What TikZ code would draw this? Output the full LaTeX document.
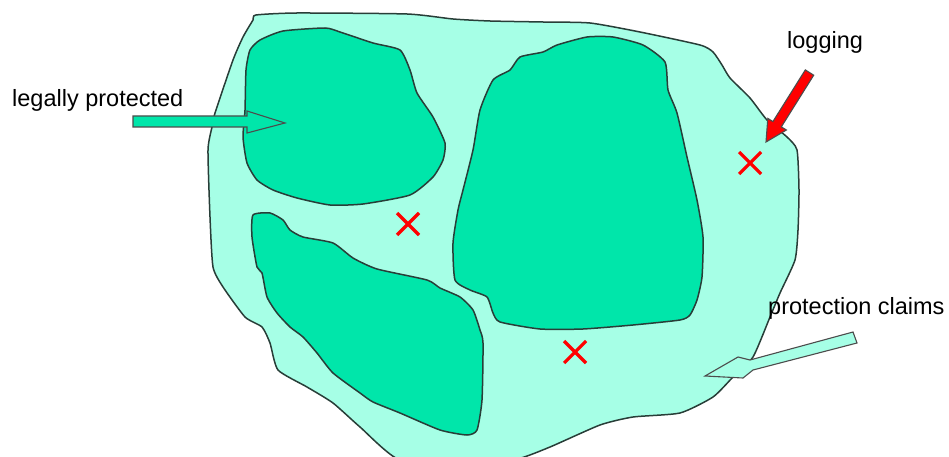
\documentclass[tikz,border=0pt]{standalone}
\usepackage{fontspec}
\setmainfont{Liberation Sans}
\usepackage{xcolor}
\usetikzlibrary{calc}
\definecolor{landfill}{RGB}{166,255,230}
\definecolor{reservefill}{RGB}{0,230,170}
\definecolor{edgegray}{RGB}{40,62,56}
\begin{document}
\begin{tikzpicture}[x=1pt,y=-1pt]
	\tikzstyle{land}=[draw=edgegray,line width=1.5pt,fill=landfill]
	\tikzstyle{reserve}=[draw=edgegray,line width=1.5pt,fill=reservefill]
	\tikzstyle{cut}=[draw=red,line width=3.2pt]
	\tikzstyle{blockarrow}=[draw=black!70,line width=1.1pt,line join=miter]
	\tikzstyle{label}=[anchor=base west,inner sep=0pt,font=\fontsize{23.5}{26}\selectfont]
	\useasboundingbox (0,0) rectangle (949,457);
	% forest area
	\draw[land] plot[smooth cycle,tension=0.35] coordinates {(256,15) (297,13) (407,14) (453,19) (490,21) (543,22) (590,23) (640,32) (700,45) (713,52) (722,65) (730,78) (750,98) (767,120) (787,137) (797,150) (799,190) (798,230) (795,260) (780,293) (770,317) (753,357) (733,377) (713,397) (680,413) (633,417) (600,425) (550,447) (517,459) (470,462) (400,460) (360,427) (333,403) (307,387) (278,370) (270,343) (262,327) (245,317) (223,287) (213,267) (210,217) (208,150) (212,127) (215,113) (233,60) (243,37) (253,20)};
	% protected zones
	\draw[reserve] plot[smooth cycle,tension=0.35] coordinates {(260,40) (283,31) (325,28) (340,32) (373,43) (400,50) (410,70) (417,93) (433,117) (445,143) (443,160) (433,177) (410,195) (363,204) (330,205) (297,198) (273,190) (257,180) (247,163) (243,137) (245,110) (246,70) (250,50)};
	\draw[reserve] plot[smooth cycle,tension=0.35] coordinates {(253,215) (270,213) (283,220) (290,230) (303,237) (333,243) (353,258) (377,269) (427,280) (440,288) (460,297) (473,310) (480,330) (483,343) (482,400) (477,430) (467,435) (440,430) (400,413) (373,402) (360,393) (333,373) (317,353) (303,337) (290,327) (277,313) (267,297) (262,273) (257,267) (252,237)};
	\draw[reserve] plot[smooth cycle,tension=0.35] coordinates {(557,45) (587,37) (613,37) (643,45) (665,62) (668,90) (677,113) (687,157) (697,200) (703,237) (702,277) (697,300) (690,315) (680,320) (633,325) (583,329) (540,329) (500,322) (493,313) (487,297) (470,290) (455,280) (453,243) (458,210) (463,190) (473,150) (480,110) (493,80) (510,70) (520,57) (543,52)};
	% logging sites
	\draw[cut] (397,213)--(419,235) (397,235)--(419,213);
	\draw[cut] (564,341)--(586,363) (564,363)--(586,341);
	\draw[cut] (739,152)--(761,174) (739,174)--(761,152);
	% arrows
	\draw[blockarrow,fill=reservefill] (133,116)--(247,116)--(247,111)--(285,123)--(247,133)--(247,127)--(133,127)--cycle;
	\draw[blockarrow,fill=red] (805.3,69.9)--(813.7,75.2)--(781.3,126.9)--(786.4,130.0)--(766,142)--(767.8,118.4)--(772.9,121.6)--cycle;
	\draw[blockarrow,fill=landfill] (853,332)--(857,343)--(753,370)--(743,378)--(705,376)--(738,357)--(750,360)--cycle;
	% labels
	\node[label] (legal) at (12,107) {legally protected};
	\node[label] (logging) at (787,49) {logging};
	\node[label] (claims) at (768,314) {protection claims};
\end{tikzpicture}
\end{document}
